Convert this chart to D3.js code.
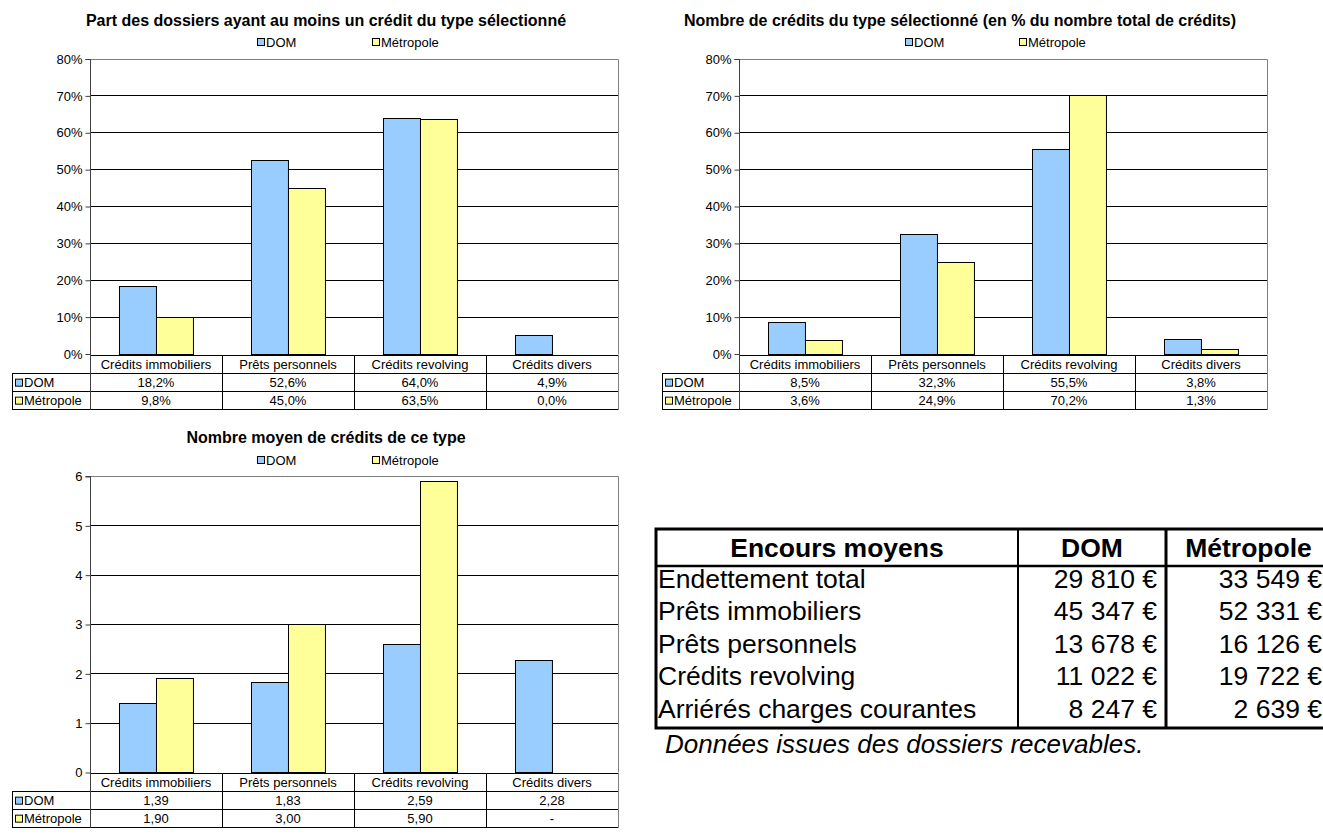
<!DOCTYPE html>
<html>
<head>
<meta charset="utf-8">
<script src="https://cdn.jsdelivr.net/npm/d3@7/dist/d3.min.js"></script>
<style>
  html, body { margin: 0; padding: 0; background: #fff; }
  svg { display: block; font-family: "Liberation Sans", Arial, sans-serif; }
</style>
</head>
<body>
<svg id="page" width="1323" height="834"></svg>
<script>
// ---- Data ----
const categories = ["Crédits immobiliers", "Prêts personnels", "Crédits revolving", "Crédits divers"];
const seriesNames = ["DOM", "Métropole"];
const seriesColors = ["#99CCFF", "#FFFF99"];

const partDom = [18.2, 52.6, 64.0, 4.9];
const partMetro = [9.8, 45.0, 63.5, 0.0];

const nombreDom = [8.5, 32.3, 55.5, 3.8];
const nombreMetro = [3.6, 24.9, 70.2, 1.3];

const moyenDom = [1.39, 1.83, 2.59, 2.28];
const moyenMetro = [1.90, 3.00, 5.90, null];

const pctTicks = [0, 10, 20, 30, 40, 50, 60, 70, 80];
const countTicks = [0, 1, 2, 3, 4, 5, 6];

const encoursLabels = ["Endettement total", "Prêts immobiliers", "Prêts personnels", "Crédits revolving", "Arriérés charges courantes"];
const encoursDom = [29810, 45347, 13678, 11022, 8247];
const encoursMetro = [33549, 52331, 16126, 19722, 2639];

// French number formatting
const fr = d3.formatLocale({ decimal: ",", thousands: "\u00a0", grouping: [3], currency: ["", "\u00a0€"] });
const fmtPct = v => fr.format(".1f")(v) + "%";
const fmtCount = v => v == null ? "-" : fr.format(".2f")(v);
const fmtEuro = v => fr.format(",d")(v) + " €";

const SMALL = 13;   // axis, legend and table text
const TITLE = 16;   // chart titles

const svg = d3.select("#page");

function legendSwatch(g, x, y, color) {
  g.append("rect").attr("x", x).attr("y", y).attr("width", 7).attr("height", 7)
    .attr("fill", color).attr("stroke", "#000").attr("stroke-width", 1);
}

function drawChart(cfg) {
  const g = svg.append("g");
  const { left, right, top, bottom, tableLeft } = cfg;

  // title
  g.append("text").attr("x", cfg.titleX).attr("y", cfg.titleY)
    .attr("text-anchor", "middle").attr("font-weight", "bold").attr("font-size", TITLE)
    .attr("fill", "#000").text(cfg.title);

  // legend
  seriesNames.forEach((name, i) => {
    const lx = cfg.legendX[i];
    legendSwatch(g, lx + 0.5, cfg.legendY - 8.5, seriesColors[i]);
    g.append("text").attr("x", lx + 9).attr("y", cfg.legendY).attr("font-size", SMALL)
      .attr("fill", "#000").text(name);
  });

  const y = d3.scaleLinear().domain(cfg.yDomain).range([bottom, top]);
  const x = d3.scaleBand().domain(categories).range([left, right])
    .paddingInner(0.44).paddingOuter(0.22);
  const xs = d3.scaleBand().domain(seriesNames).range([0, x.bandwidth()]).padding(0);

  // gridlines
  g.append("g").selectAll("line").data(cfg.ticks.slice(1)).join("line")
    .attr("x1", left).attr("x2", right)
    .attr("y1", d => Math.round(y(d)) + 0.5).attr("y2", d => Math.round(y(d)) + 0.5)
    .attr("stroke", "#000").attr("stroke-width", 1);

  // plot border (top / right)
  g.append("path")
    .attr("d", `M${left},${Math.round(top) + 0.5}H${right + 0.5}V${Math.round(bottom) + 0.5}`)
    .attr("fill", "none").attr("stroke", "#808080").attr("stroke-width", 1);

  // bars
  const series = [cfg.dom, cfg.metro];
  series.forEach((vals, si) => {
    g.append("g").selectAll("rect").data(vals.map((v, i) => ({ v, c: categories[i] })).filter(d => d.v != null && d.v > 0))
      .join("rect")
      .attr("x", d => Math.round(x(d.c) + xs(seriesNames[si])) + 0.5)
      .attr("y", d => Math.round(y(d.v)) + 0.5)
      .attr("width", xs.bandwidth())
      .attr("height", d => Math.round(y(0)) - Math.round(y(d.v)))
      .attr("fill", seriesColors[si]).attr("stroke", "#000").attr("stroke-width", 1);
  });

  // y axis
  const axis = d3.axisLeft(y).tickValues(cfg.ticks).tickSize(5).tickPadding(3)
    .tickFormat(cfg.tickFormat);
  const ax = g.append("g").attr("transform", `translate(${Math.round(left) + 0.5},0.5)`).call(axis);
  ax.select(".domain").attr("stroke", "#404040").attr("d", `M-5,${Math.round(top)}H0V${Math.round(bottom)}`);
  ax.selectAll(".tick line").attr("stroke", "#404040");
  ax.selectAll(".tick text").attr("font-size", SMALL).attr("fill", "#000")
    .attr("font-family", "Liberation Sans, Arial, sans-serif");

  // data table
  const rowH = cfg.rowH;
  const y0 = Math.round(bottom) + 0.5;
  const rows = [y0, y0 + rowH, y0 + 2 * rowH, y0 + 3 * rowH].map(Math.round).map(v => v + 0.5);
  const tg = g.append("g").attr("stroke", "#000").attr("stroke-width", 1);
  // horizontal lines
  tg.append("line").attr("x1", left).attr("x2", right + 0.5).attr("y1", rows[0]).attr("y2", rows[0]);
  [1, 2, 3].forEach(r => tg.append("line").attr("x1", tableLeft).attr("x2", right + 0.5).attr("y1", rows[r]).attr("y2", rows[r]));
  // vertical lines
  tg.append("line").attr("x1", tableLeft + 0.5).attr("x2", tableLeft + 0.5).attr("y1", rows[1]).attr("y2", rows[3]);
  const bounds = categories.map(c => x(c) - x.step() * x.paddingInner() / 2);
  bounds.push(right);
  bounds.forEach((bx, i) => {
    const xx = Math.round(bx) + 0.5;
    tg.append("line").attr("x1", xx).attr("x2", xx).attr("y1", i === 0 ? Math.round(top) : rows[0]).attr("y2", rows[3])
      .attr("stroke", i === 0 ? "#404040" : (i === 4 ? "#808080" : "#000"));
  });

  const dy = rowH / 2 + 4.5;
  categories.forEach((c, i) => {
    const cx = x(c) + x.bandwidth() / 2;
    g.append("text").attr("x", cx).attr("y", rows[0] + dy).attr("text-anchor", "middle")
      .attr("font-size", SMALL).text(c);
    g.append("text").attr("x", cx).attr("y", rows[1] + dy).attr("text-anchor", "middle")
      .attr("font-size", SMALL).text(cfg.fmt(cfg.dom[i]));
    g.append("text").attr("x", cx).attr("y", rows[2] + dy).attr("text-anchor", "middle")
      .attr("font-size", SMALL).text(cfg.fmt(cfg.metro[i]));
  });
  seriesNames.forEach((name, si) => {
    const ry = rows[1 + si];
    legendSwatch(g, tableLeft + 3.5, ry + rowH / 2 - 3.5, seriesColors[si]);
    g.append("text").attr("x", tableLeft + 12).attr("y", ry + dy)
      .attr("font-size", SMALL).text(name);
  });
}

drawChart({
  title: "Part des dossiers ayant au moins un crédit du type sélectionné",
  titleX: 326, titleY: 26, legendX: [257, 372], legendY: 47,
  left: 90, right: 618, top: 58.5, bottom: 353.5, tableLeft: 12, rowH: 18.3,
  yDomain: [0, 80], ticks: pctTicks, tickFormat: d => d + "%",
  dom: partDom, metro: partMetro, fmt: fmtPct
});

drawChart({
  title: "Nombre de crédits du type sélectionné (en % du nombre total de crédits)",
  titleX: 960, titleY: 26, legendX: [905, 1019], legendY: 47,
  left: 739, right: 1267, top: 58.5, bottom: 353.5, tableLeft: 662, rowH: 18.3,
  yDomain: [0, 80], ticks: pctTicks, tickFormat: d => d + "%",
  dom: nombreDom, metro: nombreMetro, fmt: fmtPct
});

drawChart({
  title: "Nombre moyen de crédits de ce type",
  titleX: 326, titleY: 443, legendX: [257, 372], legendY: 465,
  left: 90, right: 618, top: 476, bottom: 772, tableLeft: 12, rowH: 18.3,
  yDomain: [0, 6], ticks: countTicks, tickFormat: d => d,
  dom: moyenDom, metro: moyenMetro, fmt: fmtCount
});

// ---- Encours table ----
(function drawEncours() {
  const g = svg.append("g");
  const xL = 656, xC1 = 1018, xC2 = 1166, xR = 1331;
  const yT = 529, yH = 566, rowH = 32.4;
  const yB = yH + rowH * encoursLabels.length;
  const fs = 26.5;

  // header
  g.append("text").attr("x", (xL + xC1) / 2).attr("y", yT + 28).attr("text-anchor", "middle")
    .attr("font-size", fs).attr("font-weight", "bold").text("Encours moyens");
  g.append("text").attr("x", (xC1 + xC2) / 2).attr("y", yT + 28).attr("text-anchor", "middle")
    .attr("font-size", fs).attr("font-weight", "bold").text(seriesNames[0]);
  g.append("text").attr("x", (xC2 + xR) / 2).attr("y", yT + 28).attr("text-anchor", "middle")
    .attr("font-size", fs).attr("font-weight", "bold").text(seriesNames[1]);

  encoursLabels.forEach((lab, i) => {
    const ty = yH + rowH * i + 22;
    g.append("text").attr("x", xL + 2).attr("y", ty).attr("font-size", fs).text(lab);
    g.append("text").attr("x", xC2 - 9).attr("y", ty).attr("text-anchor", "end").attr("font-size", fs).text(fmtEuro(encoursDom[i]));
    g.append("text").attr("x", xR - 9).attr("y", ty).attr("text-anchor", "end").attr("font-size", fs).text(fmtEuro(encoursMetro[i]));
  });

  const lines = g.append("g").attr("stroke", "#000").attr("fill", "none");
  lines.append("rect").attr("x", xL).attr("y", yT).attr("width", xR - xL).attr("height", yB - yT).attr("stroke-width", 3);
  lines.append("line").attr("x1", xL).attr("x2", xR).attr("y1", yH).attr("y2", yH).attr("stroke-width", 2.5);
  lines.append("line").attr("x1", xC1).attr("x2", xC1).attr("y1", yT).attr("y2", yB).attr("stroke-width", 2);
  lines.append("line").attr("x1", xC2).attr("x2", xC2).attr("y1", yT).attr("y2", yB).attr("stroke-width", 3);

  g.append("text").attr("x", 665).attr("y", yB + 25).attr("font-size", 26).attr("font-style", "italic")
    .text("Données issues des dossiers recevables.");
})();
</script>
</body>
</html>
